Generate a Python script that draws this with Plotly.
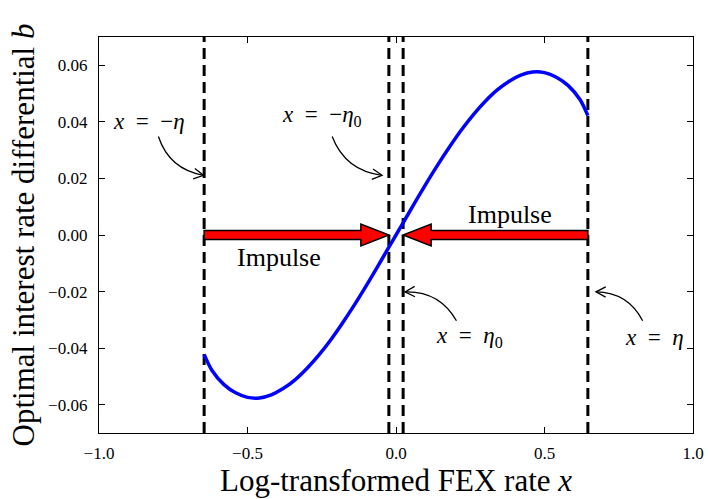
import math
import plotly.graph_objects as go

# ---------------- data ----------------
eta = 0.646
eta0 = 0.024

x_vals = [-0.646, -0.62, -0.58, -0.54, -0.50, -0.46, -0.42, -0.38, -0.34, -0.30,
          -0.26, -0.22, -0.18, -0.14, -0.10, -0.06, -0.02, 0.0,
          0.02, 0.06, 0.10, 0.14, 0.18, 0.22, 0.26, 0.30, 0.34, 0.38,
          0.42, 0.46, 0.50, 0.54, 0.58, 0.62, 0.646]
b_vals = [-0.0422, -0.0478, -0.0528, -0.0558, -0.0574, -0.0576, -0.0565, -0.0543, -0.0512, -0.0472,
          -0.0425, -0.0371, -0.0311, -0.0247, -0.0179, -0.0108, -0.0036, 0.0,
          0.0036, 0.0108, 0.0179, 0.0247, 0.0311, 0.0371, 0.0425, 0.0472, 0.0512, 0.0543,
          0.0565, 0.0576, 0.0574, 0.0558, 0.0528, 0.0478, 0.0422]

x_ticks = [-1.0, -0.5, 0.0, 0.5, 1.0]
x_tick_labels = ["\u22121.0", "\u22120.5", "0.0", "0.5", "1.0"]
y_ticks = [-0.06, -0.04, -0.02, 0.0, 0.02, 0.04, 0.06]
y_tick_labels = ["\u22120.06", "\u22120.04", "\u22120.02", "0.00", "0.02", "0.04", "0.06"]

SP = "\u2002"
label_texts = [f"<i>x</i>{SP}={SP}−<i>η</i>", f"<i>x</i>{SP}={SP}−<i>η</i><sub>0</sub>",
               f"<i>x</i>{SP}={SP}<i>η</i><sub>0</sub>", f"<i>x</i>{SP}={SP}<i>η</i>"]
label_pos = [(-0.831, 0.0401), (-0.250, 0.0419), (0.249, -0.0361), (0.872, -0.0361)]
arrow_start = [(-0.800, 0.0348), (-0.215, 0.0348), (0.2035, -0.0303), (0.8304, -0.0303)]
arrow_tip = [(-0.648, 0.0211), (-0.047, 0.0211), (0.0306, -0.0201), (0.6733, -0.0201)]
impulse_pos = [(-0.393, -0.0079), (0.384, 0.0073)]

# ---------------- geometry ----------------
W, H = 709, 499
ML, MR, MT, MB = 99, 16, 37, 66
PW, PH = W - ML - MR, H - MT - MB
XR = (-1.0, 1.0)
YR = (-0.07, 0.07)
sx = PW / (XR[1] - XR[0])
sy = PH / (YR[1] - YR[0])

def to_px(x, y):
    return ML + (x - XR[0]) * sx, MT + (YR[1] - y) * sy

def to_data(px, py):
    return XR[0] + (px - ML) / sx, YR[1] - (py - MT) / sy

font_family = "Liberation Serif"

fig = go.Figure()

# dashed vertical lines
for xv in [-eta, -eta0, eta0, eta]:
    fig.add_trace(go.Scatter(x=[xv, xv], y=[YR[0], YR[1]], mode="lines",
                             line=dict(color="black", width=3, dash="11px,6px"),
                             hoverinfo="skip", showlegend=False))

# curve
fig.add_trace(go.Scatter(x=x_vals, y=b_vals, mode="lines",
                         line=dict(color="#0000ff", width=3.5, shape="spline", smoothing=0.8),
                         showlegend=False))

shapes = []

# big impulse arrows
h1 = 4.5 / sy
h2 = 11 / sy
hl = 28 / sx

def block_arrow(xs, xt):
    d = 1 if xt > xs else -1
    xb = xt - d * hl
    path = (f"M {xs},{-h1} L {xb},{-h1} L {xb},{-h2} L {xt},0 L {xb},{h2} "
            f"L {xb},{h1} L {xs},{h1} Z")
    return dict(type="path", xref="x", yref="y", path=path,
                fillcolor="#ff0000", line=dict(color="black", width=1.5), layer="above")

shapes.append(block_arrow(-eta, -eta0))
shapes.append(block_arrow(eta, eta0))

# curved annotation arrows
def curved_arrow(start, tip, rad=0.3, head_len=11, head_ang=28):
    sxp, syp = to_px(*start)
    txp, typ = to_px(*tip)
    x1, y1 = sxp, -syp
    x2, y2 = txp, -typ
    mx, my = (x1 + x2) / 2, (y1 + y2) / 2
    dx, dy = x2 - x1, y2 - y1
    cx, cy = mx + rad * dy, my - rad * dx
    cpx, cpy = cx, -cy
    c = to_data(cpx, cpy)
    path = f"M {start[0]},{start[1]} Q {c[0]},{c[1]} {tip[0]},{tip[1]}"
    out = [dict(type="path", xref="x", yref="y", path=path,
                fillcolor="rgba(0,0,0,0)", line=dict(color="black", width=1.3), layer="above")]
    ux, uy = txp - cpx, typ - cpy
    n = math.hypot(ux, uy)
    ux, uy = ux / n, uy / n
    pts = []
    for s in (1, -1):
        a = math.radians(head_ang) * s
        rx = ux * math.cos(a) - uy * math.sin(a)
        ry = ux * math.sin(a) + uy * math.cos(a)
        pts.append(to_data(txp - head_len * rx, typ - head_len * ry))
    hp = f"M {pts[0][0]},{pts[0][1]} L {tip[0]},{tip[1]} L {pts[1][0]},{pts[1][1]}"
    out.append(dict(type="path", xref="x", yref="y", path=hp,
                    fillcolor="rgba(0,0,0,0)", line=dict(color="black", width=1.3), layer="above"))
    return out

for s, t in zip(arrow_start, arrow_tip):
    shapes.extend(curved_arrow(s, t))

annotations = []
for txt, (ax_, ay_) in zip(label_texts, label_pos):
    annotations.append(dict(x=ax_, y=ay_, xref="x", yref="y", text=txt, showarrow=False,
                            font=dict(family=font_family, size=23, color="black"),
                            xanchor="center", yanchor="middle"))
for (ix, iy) in impulse_pos:
    annotations.append(dict(x=ix, y=iy, xref="x", yref="y", text="Impulse", showarrow=False,
                            font=dict(family=font_family, size=26, color="black"),
                            xanchor="center", yanchor="middle"))

axis_common = dict(showgrid=False, zeroline=False, showline=True, linecolor="black",
                   linewidth=1.3, mirror="allticks", ticks="inside", ticklen=6,
                   tickwidth=1, tickcolor="black",
                   tickfont=dict(family=font_family, size=17, color="black"))

fig.update_layout(
    width=W, height=H,
    margin=dict(l=ML, r=MR, t=MT, b=MB, autoexpand=False),
    plot_bgcolor="white", paper_bgcolor="white",
    shapes=shapes, annotations=annotations,
    xaxis=dict(range=list(XR), tickvals=x_ticks, ticktext=x_tick_labels,
               title=dict(text="Log-transformed FEX rate <i>x</i>",
                          font=dict(family=font_family, size=31, color="black"), standoff=4),
               ticklabelstandoff=4, **axis_common),
    yaxis=dict(range=list(YR), tickvals=y_ticks, ticktext=y_tick_labels,
               title=dict(text="Optimal interest rate differential <i>b</i>",
                          font=dict(family=font_family, size=31, color="black"), standoff=4),
               ticklabelstandoff=7, **axis_common),
)

fig.write_html("out.html", config={"displayModeBar": False},
               post_script="document.body.style.margin='0';")
